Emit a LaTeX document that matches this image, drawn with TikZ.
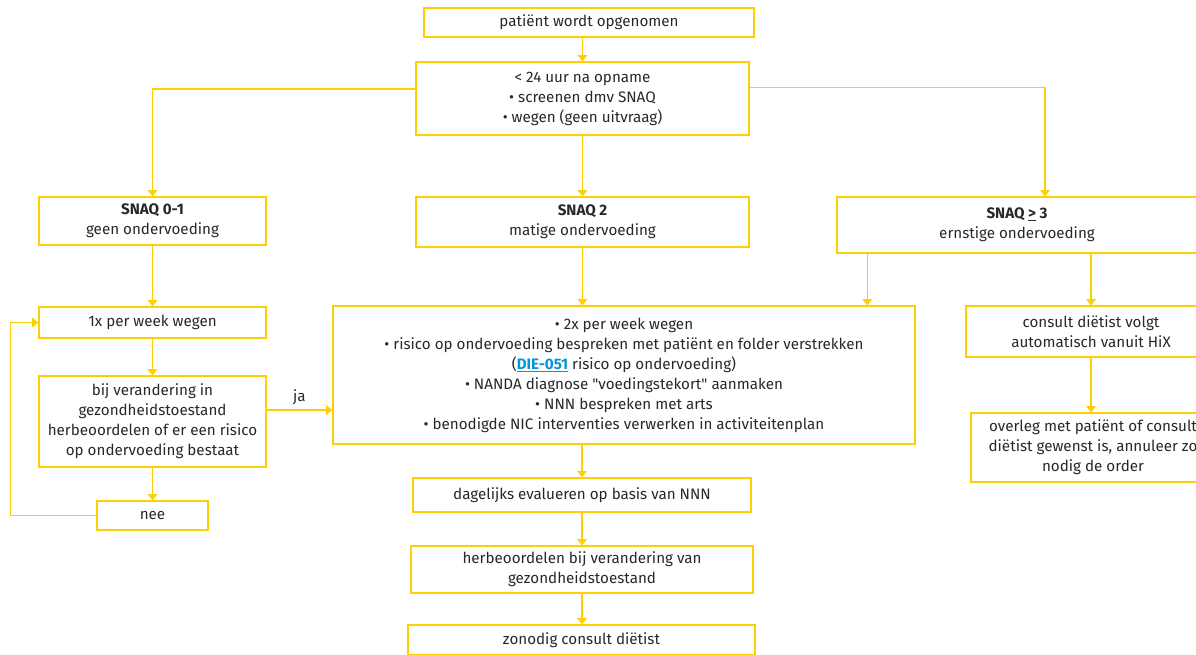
\documentclass[tikz,border=0pt]{standalone}
\usepackage{fontspec}
\setmainfont{Fira Sans}
\usepackage{xcolor}
\usetikzlibrary{arrows.meta, positioning}
\definecolor{snaqyellow}{RGB}{255,208,0}
\definecolor{linkblue}{RGB}{0,150,220}
\definecolor{txtgray}{RGB}{40,40,40}

\begin{document}
\begin{tikzpicture}[
    x=0.025cm, y=-0.025cm,
    box/.style={draw=snaqyellow, line width=0.9pt, align=center, text=txtgray, inner sep=2pt,
        font=\fontsize{10.8}{14.2}\selectfont},
    arr/.style={-{Triangle[width=7pt, length=4.5pt]}, draw=snaqyellow, line width=0.9pt},
]
\useasboundingbox (0,0) rectangle (1196,654);

% Opname
\node[box, minimum width=8.25cm, minimum height=0.725cm] (opname) at (589,22.5) {patiënt wordt opgenomen};
\node[box, minimum width=8.325cm, minimum height=1.825cm] (screen) at (582.5,98.5)
    {< 24 uur na opname\\\textbullet{} screenen dmv SNAQ\\\textbullet{} wegen (geen uitvraag)};

% SNAQ scores
\node[box, minimum width=5.675cm, minimum height=1.2cm] (snaq01) at (152.5,221) {\textbf{SNAQ 0-1}\\geen ondervoeding};
\node[box, minimum width=8.325cm, minimum height=1.25cm] (snaq2) at (582.5,222) {\textbf{SNAQ 2}\\matige ondervoeding};
\node[box, minimum width=9cm, minimum height=1.4cm] (snaq3) at (1017,225) {\textbf{SNAQ \underline{>} 3}\\ernstige ondervoeding};

% Geen ondervoeding
\node[box, minimum width=5.675cm, minimum height=0.775cm] (week1) at (152.5,322.5) {1x per week wegen};
\node[box, minimum width=5.675cm, minimum height=2.275cm] (verander) at (152.5,421.5)
    {bij verandering in\\gezondheidstoestand\\herbeoordelen of er een risico\\op ondervoeding bestaat};
\node[box, minimum width=2.775cm, minimum height=0.725cm] (nee) at (152.5,515.5) {nee};

% Matige ondervoeding
\node[box, minimum width=14.55cm, minimum height=3.45cm] (beleid) at (624,375)
    {\textbullet{} 2x per week wegen\\
     \textbullet{} risico op ondervoeding bespreken met patiënt en folder verstrekken\\
     (\textcolor{linkblue}{\textbf{\underline{DIE-051}}} risico op ondervoeding)\\
     \textbullet{} NANDA diagnose \textquotedbl voedingstekort\textquotedbl{} aanmaken\\
     \textbullet{} NNN bespreken met arts\\
     \textbullet{} benodigde NIC interventies verwerken in activiteitenplan};
\node[box, minimum width=8.45cm, minimum height=0.85cm] (dagelijks) at (582,495) {dagelijks evalueren op basis van NNN};
\node[box, minimum width=8.55cm, minimum height=1.175cm] (herbeoordeel) at (582,569.5)
    {herbeoordelen bij verandering van\\gezondheidstoestand};
\node[box, minimum width=8.675cm, minimum height=0.75cm] (zonodig) at (581.5,640) {zonodig consult diëtist};

% Ernstige ondervoeding
\node[box, minimum width=6.25cm, minimum height=1.275cm] (consult) at (1091,331.5)
    {consult diëtist volgt\\automatisch vanuit HiX};
\node[box, minimum width=6.1cm, minimum height=1.725cm] (overleg) at (1093,447.5)
    {overleg met patiënt of consult\\diëtist gewenst is, annuleer zo\\nodig de order};

% Arrows
\draw[arr] (opname.south -| screen.north) -- (screen.north);
\draw[arr] ([yshift=0.2375cm]screen.west) -| (snaq01.north);
\draw[arr] (screen.south) -- (snaq2.north);
\draw[arr] ([yshift=0.275cm]screen.east) -| ([xshift=0.7cm]snaq3.north);

\draw[arr] (snaq01) -- (week1);
\draw[arr] (week1) -- (verander);
\draw[arr] (verander) -- (nee);
\draw[arr] (nee.west) -- ++(-86,0) |- (week1.west);
\draw[arr] ([yshift=0.2875cm]verander.east) -- node[above, text=txtgray, font=\fontsize{10.8}{14}\selectfont] {ja}
    ([yshift=0.2875cm]verander.east -| beleid.west);

\draw[arr] (snaq2.south) -- (snaq2.south |- beleid.north);
\draw[arr] ([xshift=0.775cm]snaq3.south west) -- ([xshift=0.775cm]snaq3.south west |- beleid.north);
\draw[arr] (dagelijks.north |- beleid.south) -- (dagelijks.north);
\draw[arr] (dagelijks) -- (herbeoordeel);
\draw[arr] (herbeoordeel.south) -- (herbeoordeel.south |- zonodig.north);

\draw[arr] (snaq3.south -| consult.north) -- (consult.north);
\draw[arr] (consult.south) -- (consult.south |- overleg.north);
\end{tikzpicture}
\end{document}
